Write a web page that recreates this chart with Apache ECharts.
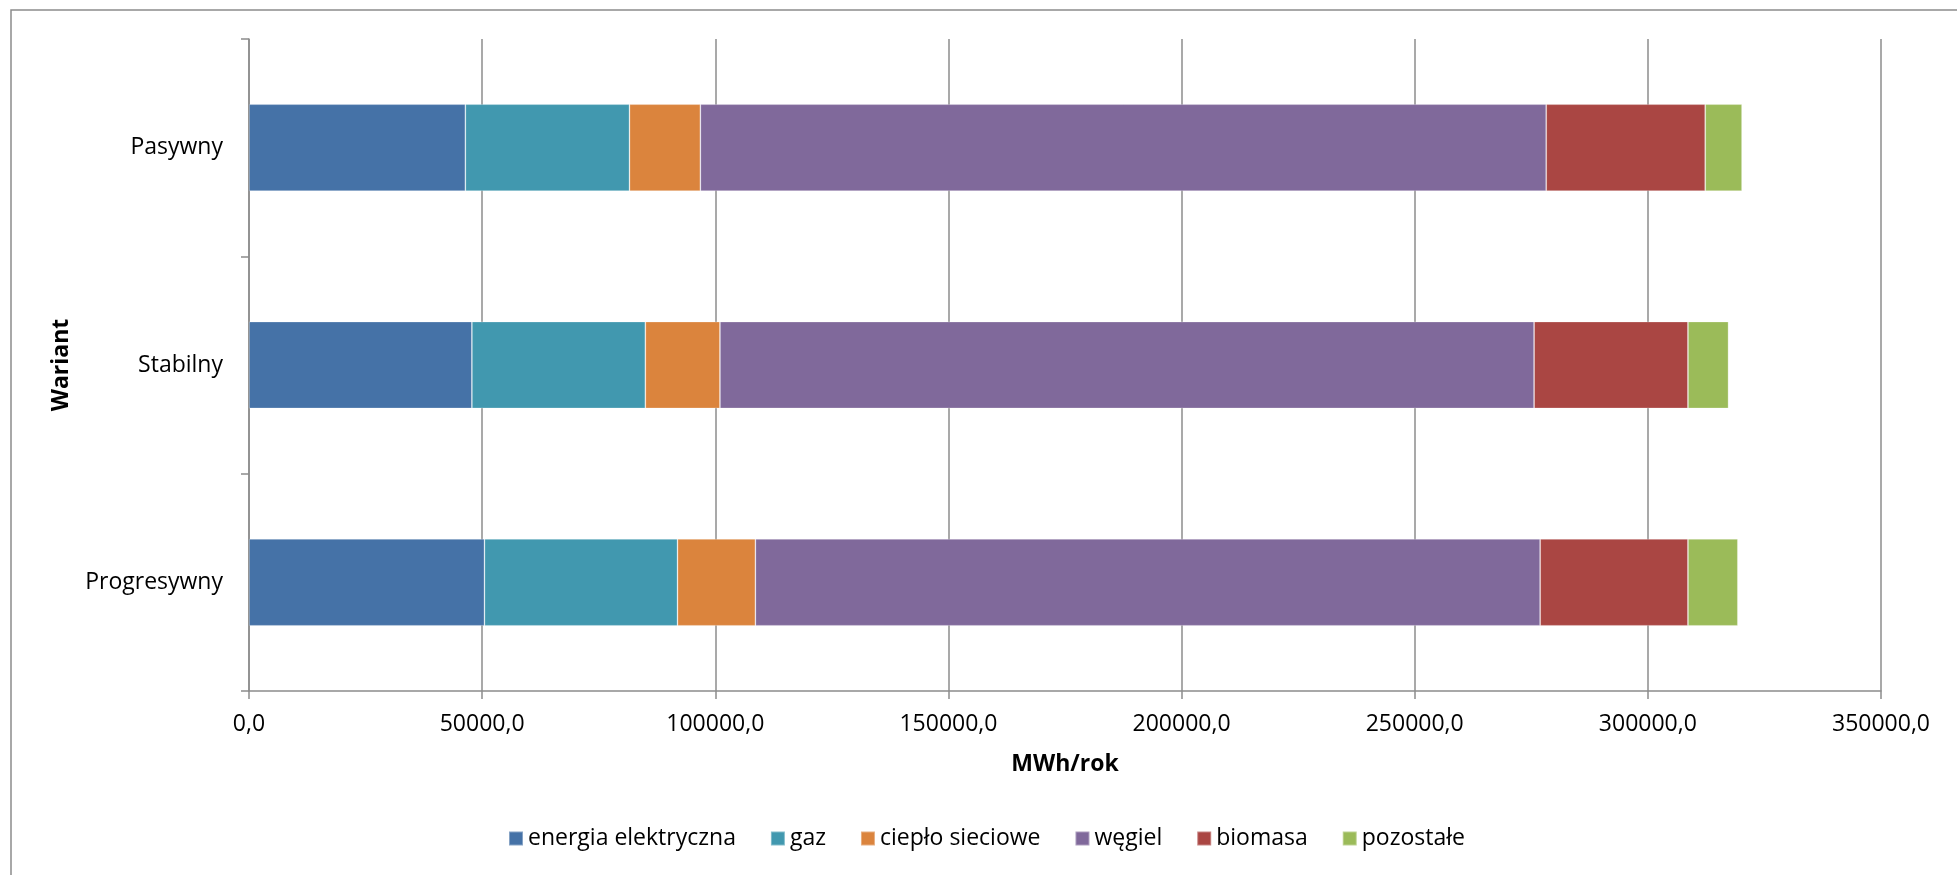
<!DOCTYPE html>
<html>
<head>
<meta charset="utf-8">
<script src="https://cdn.jsdelivr.net/npm/echarts@6/dist/echarts.min.js"></script>
<style>
  html, body { margin: 0; padding: 0; background: #ffffff; }
  #chart { width: 1957px; height: 875px; }
</style>
</head>
<body>
<div id="chart"></div>
<script>
// Variants, listed bottom to top on the category axis
const categories = ['Progresywny', 'Stabilny', 'Pasywny'];

// Energy demand by carrier, MWh/rok (same order as categories)
const energiaElektryczna = [50500, 47800, 46400];
const gaz               = [41400, 37200, 35200];
const cieploSieciowe    = [16700, 16000, 15200];
const wegiel            = [168300, 174600, 181400];
const biomasa           = [31700, 33000, 34100];
const pozostale         = [10700, 8700, 7900];

const seriesNames = ['energia elektryczna', 'gaz', 'ciepło sieciowe', 'węgiel', 'biomasa', 'pozostałe'];
const seriesValues = [energiaElektryczna, gaz, cieploSieciowe, wegiel, biomasa, pozostale];
const seriesColors = ['#4572A7', '#4198AF', '#DB843D', '#80699B', '#AA4643', '#9BBB59'];

const FONT = '"Open Sans", "Liberation Sans", sans-serif';
const AXIS_GRAY = '#8c8c8c';

const chart = echarts.init(document.getElementById('chart'), null, { renderer: 'canvas' });

chart.setOption({
  animation: false,
  backgroundColor: '#ffffff',
  textStyle: { fontFamily: FONT, color: '#000000' },
  graphic: [{
    type: 'rect',
    shape: { x: 11, y: 10, width: 2100, height: 1000 },
    style: { fill: 'none', stroke: AXIS_GRAY, lineWidth: 1.5 },
    silent: true,
    z: -10
  }],
  grid: { left: 249, right: 76, top: 39, bottom: 184, containLabel: false },
  legend: {
    data: seriesNames,
    bottom: 20,
    left: 503,
    icon: 'rect',
    itemWidth: 14,
    itemHeight: 14,
    itemGap: 34,
    textStyle: { fontFamily: FONT, fontSize: 23, color: '#000000' }
  },
  xAxis: {
    type: 'value',
    min: 0,
    max: 350000,
    interval: 50000,
    name: 'MWh/rok',
    nameLocation: 'middle',
    nameGap: 62,
    nameTextStyle: { fontFamily: FONT, fontSize: 23, fontWeight: 'bold', color: '#000000' },
    axisLine: { show: true, lineStyle: { color: AXIS_GRAY, width: 1.5 } },
    axisTick: { show: true, length: 8, lineStyle: { color: AXIS_GRAY, width: 1.5 } },
    splitLine: { show: true, lineStyle: { color: AXIS_GRAY, width: 1.5 } },
    axisLabel: {
      fontFamily: FONT,
      fontSize: 23,
      color: '#000000',
      margin: 22,
      formatter: v => v.toFixed(1).replace('.', ',')
    }
  },
  yAxis: {
    type: 'category',
    data: categories,
    name: 'Wariant',
    nameLocation: 'middle',
    nameRotate: 90,
    nameGap: 176,
    nameTextStyle: { fontFamily: FONT, fontSize: 23, fontWeight: 'bold', color: '#000000' },
    axisLine: { show: true, lineStyle: { color: AXIS_GRAY, width: 1.5 } },
    axisTick: { show: true, length: 8, lineStyle: { color: AXIS_GRAY, width: 1.5 } },
    axisLabel: { fontFamily: FONT, fontSize: 23, color: '#000000', margin: 26 },
    splitLine: { show: false }
  },
  series: seriesNames.map((name, i) => ({
    name: name,
    type: 'bar',
    stack: 'total',
    data: seriesValues[i],
    barCategoryGap: '60%',
    itemStyle: { color: seriesColors[i], borderColor: 'rgba(255,255,255,0.35)', borderWidth: 0.8 }
  }))
});
</script>
</body>
</html>
